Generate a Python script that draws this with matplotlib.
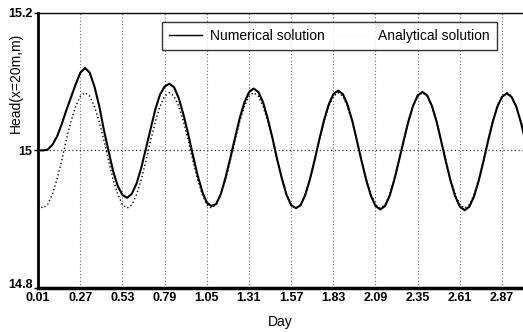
import numpy as np
import matplotlib
matplotlib.use("Agg")
import matplotlib.pyplot as plt
import matplotlib.transforms as mtransforms
from matplotlib.lines import Line2D

plt.rcParams['font.family'] = ['Liberation Sans', 'DejaVu Sans']

# sampling days (read along the x axis)
days = [0.010, 0.039, 0.068, 0.097, 0.126, 0.155, 0.183, 0.212, 0.241, 0.270,
        0.299, 0.328, 0.357, 0.386, 0.415, 0.444, 0.472, 0.501, 0.530, 0.559,
        0.588, 0.617, 0.646, 0.675, 0.704, 0.733, 0.761, 0.790, 0.819, 0.848,
        0.877, 0.906, 0.935, 0.964, 0.993, 1.022, 1.050, 1.079, 1.108, 1.137,
        1.166, 1.195, 1.224, 1.253, 1.282, 1.311, 1.339, 1.368, 1.397, 1.426,
        1.455, 1.484, 1.513, 1.542, 1.571, 1.600, 1.628, 1.657, 1.686, 1.715,
        1.744, 1.773, 1.802, 1.831, 1.860, 1.889, 1.917, 1.946, 1.975, 2.004,
        2.033, 2.062, 2.091, 2.120, 2.149, 2.178, 2.206, 2.235, 2.264, 2.293,
        2.322, 2.351, 2.380, 2.409, 2.438, 2.467, 2.495, 2.524, 2.553, 2.582,
        2.611, 2.640, 2.669, 2.698, 2.727, 2.756, 2.784, 2.813, 2.842, 2.871,
        2.900, 2.929, 2.958, 2.987, 3.016]

numerical = [15.000, 15.000, 15.001, 15.008, 15.020, 15.038, 15.058, 15.077, 15.096, 15.113,
             15.120, 15.113, 15.093, 15.065, 15.030, 14.999, 14.970, 14.948, 14.935, 14.931,
             14.937, 14.952, 14.975, 15.003, 15.032, 15.060, 15.081, 15.093, 15.097, 15.092,
             15.076, 15.052, 15.024, 14.993, 14.964, 14.940, 14.924, 14.919, 14.922, 14.937,
             14.961, 14.989, 15.018, 15.047, 15.070, 15.085, 15.090, 15.085, 15.070, 15.046,
             15.018, 14.987, 14.959, 14.935, 14.920, 14.916, 14.920, 14.935, 14.958, 14.986,
             15.016, 15.044, 15.067, 15.082, 15.087, 15.082, 15.067, 15.044, 15.015, 14.985,
             14.957, 14.934, 14.919, 14.914, 14.919, 14.934, 14.957, 14.985, 15.014, 15.042,
             15.065, 15.080, 15.085, 15.080, 15.065, 15.042, 15.014, 14.984, 14.956, 14.933,
             14.918, 14.913, 14.918, 14.933, 14.956, 14.984, 15.013, 15.041, 15.064, 15.078,
             15.083, 15.078, 15.064, 15.041, 15.013]

analytical = [14.921, 14.916, 14.921, 14.936, 14.958, 14.985, 15.015, 15.042, 15.064, 15.079,
              15.084, 15.079, 15.064, 15.042, 15.015, 14.985, 14.958, 14.936, 14.921, 14.916,
              14.921, 14.936, 14.958, 14.985, 15.015, 15.042, 15.064, 15.079, 15.084, 15.079,
              15.064, 15.042, 15.015, 14.985, 14.958, 14.936, 14.921, 14.916, 14.921, 14.936,
              14.958, 14.985, 15.015, 15.042, 15.064, 15.079, 15.084, 15.079, 15.064, 15.042,
              15.015, 14.985, 14.958, 14.936, 14.921, 14.916, 14.921, 14.936, 14.958, 14.985,
              15.015, 15.042, 15.064, 15.079, 15.084, 15.079, 15.064, 15.042, 15.015, 14.985,
              14.958, 14.936, 14.921, 14.916, 14.921, 14.936, 14.958, 14.985, 15.015, 15.042,
              15.064, 15.079, 15.084, 15.079, 15.064, 15.042, 15.015, 14.985, 14.958, 14.936,
              14.921, 14.916, 14.921, 14.936, 14.958, 14.985, 15.015, 15.042, 15.064, 15.079,
              15.084, 15.079, 15.064, 15.042, 15.015]

x_ticks = [0.01, 0.27, 0.53, 0.79, 1.05, 1.31, 1.57, 1.83, 2.09, 2.35, 2.61, 2.87]
y_ticks = [14.8, 15.0, 15.2]
y_tick_labels = ["14.8", "15", "15.2"]

fig = plt.figure(figsize=(5.23, 3.32), dpi=100)
ax = fig.add_axes([0.073, 0.133, 0.927, 0.828])

# dotted grid: verticals at each tick, horizontal at 15
for xt in x_ticks:
    ax.axvline(xt, color="#666666", lw=0.8, ls=(0, (1, 2)), zorder=1)
ax.axhline(15.0, color="#333333", lw=0.9, ls=(0, (1, 2)), zorder=1)

ax.plot(days, analytical, color="black", lw=1.0, ls=(0, (1, 1.8)), zorder=2)
ax.plot(days, numerical, color="black", lw=1.5, zorder=3)

ax.set_xlim(0.01, 3.0)
ax.set_ylim(14.8, 15.2)
ax.set_xticks(x_ticks)
ax.set_xticklabels([f"{v:.2f}" for v in x_ticks], fontsize=9, fontweight="bold")
ax.set_yticks(y_ticks)
ax.set_yticklabels(y_tick_labels, fontsize=9, fontweight="bold")
ax.tick_params(axis="x", length=0, pad=3)
ax.tick_params(axis="y", length=3, width=1, pad=1)

# lift the 14.8 label a little so it clears 0.01
lab = ax.get_yticklabels()[0]
lab.set_transform(lab.get_transform() + mtransforms.ScaledTranslation(0, 3 / 72, fig.dpi_scale_trans))

ax.spines["left"].set_linewidth(2.0)
ax.spines["bottom"].set_linewidth(2.5)
ax.spines["top"].set_linewidth(1.0)
ax.spines["right"].set_visible(False)

ax.set_xlabel("Day", fontsize=10, labelpad=8)
fig.text(0.03, 0.75, "Head(x=20m,m)", rotation=90, fontsize=10,
         ha="center", va="center")

handles = [Line2D([], [], color="black", lw=1.0),
           Line2D([], [], color="#cccccc", lw=0.5, ls=(0, (1, 4)))]
leg = ax.legend(handles, ["Numerical solution", "Analytical solution"],
                ncol=2, loc="upper left", bbox_to_anchor=(0.255, 0.968),
                fontsize=10, frameon=True, fancybox=False,
                borderpad=0.5, handlelength=2.4, columnspacing=0.8,
                handletextpad=0.6, borderaxespad=0)
leg.get_frame().set_edgecolor("black")
leg.get_frame().set_linewidth(1.0)

fig.savefig("out.png", dpi=100)
